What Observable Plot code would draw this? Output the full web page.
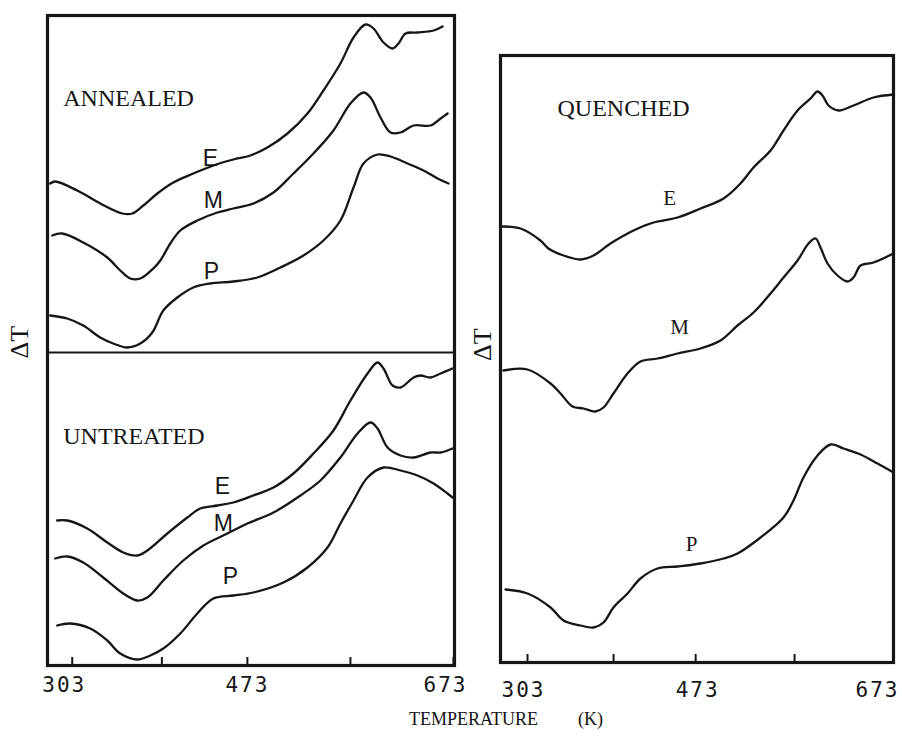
<!DOCTYPE html>
<html><head><meta charset="utf-8">
<script src="https://cdn.jsdelivr.net/npm/d3@7"></script>
<script src="https://cdn.jsdelivr.net/npm/@observablehq/plot@0.6"></script>
<style>
body{margin:0;background:#fff;}
#fig{position:relative;width:902px;height:738px;background:#fff;overflow:hidden;}
#fig svg{position:absolute;top:0;overflow:visible;background:transparent;}
#xlabel{position:absolute;top:709px;left:409px;font-family:"Liberation Serif",serif;font-size:18px;color:#111;white-space:nowrap;}
#xlabel span.k{margin-left:40px;}
[aria-label="x-axis tick label"] text{letter-spacing:2px;}
</style></head><body><div id="fig"><div id="xlabel">TEMPERATURE<span class="k">(K)</span></div></div>
<script>
// Temperature (K) tick values
const tickLabels = [303, 473, 673];
const tickMarks = [303, 390, 473, 573, 673];

// ΔT curves, arbitrary units: [T (K), ΔT]
// Left panel – ANNEALED
const annealedE = [[281.6,482],[286.5,484],[307.9,475],[330.2,462],[351.6,452],[361.3,452],[372,460],[385.6,472],[401.1,483],[420.5,492],[440,500],[459.4,506],[475.9,510],[492.4,518],[511.9,532],[531.3,552],[546.8,575],[563.3,602],[576,628],[587.6,641],[595.4,637],[605.1,623],[613.9,617],[619.7,622],[626.5,632],[638.1,633],[653.7,635],[662.4,639]];
const annealedM = [[283.6,430],[293.3,432],[313.7,423],[337,408],[349.6,395],[359.3,387],[369.1,387],[381.7,397],[388.5,405],[398.2,422],[407.9,435],[424.4,445],[443.9,453],[459.4,457],[478.8,462],[498.3,473],[517.7,492],[537.1,512],[556.5,535],[573,562],[585.7,573],[592.5,568],[602.2,548],[611.9,533],[621.6,533],[634.3,540],[650.8,540],[660.5,547],[667.3,552]];
const annealedP = [[281.6,350],[298.1,347],[313.7,340],[330.2,328],[342.8,322],[356.4,318],[369.1,322],[380.7,333],[391.4,355],[405,368],[420.5,378],[437.1,382],[459.4,384],[482.7,388],[505.1,398],[527.4,410],[546.8,425],[563.3,445],[576,478],[585.7,502],[599.3,511],[611.9,509],[628.4,502],[644,495],[657.6,487],[668.2,482]];
// Left panel – UNTREATED
const untreatedE = [[288.4,145],[298.1,145],[317.6,137],[337,123],[352.5,113],[366.1,110],[375.9,115],[395.3,132],[414.7,148],[427.3,157],[443.9,160],[459.4,163],[478.8,170],[498.3,178],[517.7,192],[537.1,212],[556.5,235],[573,265],[589.6,292],[599.3,303],[605.1,297],[613.9,280],[621.6,278],[634.3,288],[641,290],[650.8,288],[660.5,292],[672.1,297]];
const untreatedM = [[286.5,107],[298.1,109],[313.7,103],[333.1,88],[352.5,72],[366.1,65],[375.9,68],[391.4,85],[410.8,105],[430.3,120],[453.6,132],[473,142],[498.3,153],[524.5,170],[543.9,185],[563.3,208],[579.9,232],[592.5,243],[599.3,237],[609,218],[621.6,210],[634.3,208],[650.8,213],[660.5,213],[672.1,217]];
const untreatedP = [[288.4,40],[301,42],[320.5,37],[337,25],[349.6,12],[366.1,6],[378.8,10],[391.4,17],[407.9,32],[424.4,52],[440,67],[459.4,70],[478.8,73],[508,83],[531.3,98],[550.7,118],[563.3,142],[576,165],[589.6,188],[605.1,198],[621.6,195],[638.1,190],[653.7,182],[672.1,168]];
// Right panel – QUENCHED
const quenchedE = [[277.7,436],[295.9,434],[316.1,422],[324.2,414],[339.4,407],[356.6,403],[369.7,407],[386.9,419],[410.2,432],[430.4,440],[454.7,445],[477.9,454],[501.2,464],[518.3,479],[531.5,495],[548.7,512],[561.8,532],[576,552],[589.1,564],[596.2,571],[601.2,567],[607.3,557],[617.4,552],[632.6,557],[652.8,565],[673,568]];
const quenchedM = [[278.7,292],[303,293],[326.3,279],[336.4,269],[348.5,256],[359.6,254],[371.7,251],[379.8,255],[389.9,269],[404.1,289],[417.2,301],[434.4,304],[454.7,309],[477.9,314],[498.1,322],[515.3,337],[531.5,350],[548.7,369],[561.8,385],[576,402],[587.1,419],[594.2,424],[599.2,415],[606.3,399],[616.4,387],[626.5,381],[632.6,385],[639.7,397],[652.8,400],[673,409]];
const quenchedP = [[280.8,73],[303,69],[326.3,55],[339.4,42],[356.6,37],[369.7,35],[379.8,40],[389.9,55],[404.1,69],[417.2,84],[434.4,94],[454.7,96],[477.9,99],[501.2,104],[515.3,109],[538.6,125],[561.8,145],[571.9,162],[582,185],[596.2,207],[609.4,218],[622.5,214],[639.7,208],[656.9,199],[673,190]];

// level separating the ANNEALED and UNTREATED traces
const dividerLevel = [313];

// annotation anchors [text, T, ΔT]
const leftTitles = [["ANNEALED",294.3,560],["UNTREATED",294.3,222]];
const leftCurveLabels = [["E",437,500],["M",440,458],["P",438,387],["E",448.7,172],["M",449.7,135],["P",456.5,82]];
const rightTitles = [["QUENCHED",333.3,547]];
const rightCurveLabels = [["E",446.6,458],["M",456.7,329],["P",468.8,112]];

function rows(group, name, pts) { return pts.map(([T, v]) => ({key: group + name, T, v})); }
function anchors(arr) { return arr.map(([text, T, v]) => ({text, T, v})); }

const ink = "#161616";
const serif = "Liberation Serif, Times New Roman, serif";

const leftData = [
  ...rows("A","E",annealedE), ...rows("A","M",annealedM), ...rows("A","P",annealedP),
  ...rows("U","E",untreatedE), ...rows("U","M",untreatedM), ...rows("U","P",untreatedP)
];
const rightData = [...rows("Q","E",quenchedE), ...rows("Q","M",quenchedM), ...rows("Q","P",quenchedP)];

function panel({data, xDomain, yDomain, width, height, mt, mr, mb, ml, titles, curveLabels, curveFont, curveSize, labelDx, divider, dtDx, dtDy}) {
  const marks = [
    Plot.frame({stroke: ink, strokeWidth: 3.2}),
    Plot.ruleX(tickMarks, {x: d => d, y1: 0, y2: 8, stroke: ink, strokeWidth: 2}),
    Plot.line(data, {x: "T", y: "v", z: "key", curve: "catmull-rom", stroke: ink, strokeWidth: 2.3}),
    Plot.text(anchors(titles), {x: "T", y: "v", text: "text", textAnchor: "start", lineAnchor: "bottom", fontSize: 24, fontFamily: serif, fill: ink}),
    Plot.text(anchors(curveLabels), {x: "T", y: "v", text: "text", lineAnchor: "bottom", fontSize: curveSize, fontFamily: curveFont, fill: ink}),
    Plot.text(["ΔT"], {text: d => d, frameAnchor: "left", rotate: -90, dx: dtDx, dy: dtDy, fontSize: 26, fontFamily: serif, fill: ink}),
    Plot.axisX([tickLabels[0]], {tickSize: 0, tickPadding: labelDx.pad, dx: labelDx.a, label: null, fontSize: 21, fontFamily: "DejaVu Sans Mono, monospace", fill: ink}),
    Plot.axisX([tickLabels[1]], {tickSize: 0, tickPadding: labelDx.pad, dx: labelDx.b, label: null, fontSize: 21, fontFamily: "DejaVu Sans Mono, monospace", fill: ink}),
    Plot.axisX([tickLabels[2]], {tickSize: 0, tickPadding: labelDx.pad, dx: labelDx.c, label: null, fontSize: 21, fontFamily: "DejaVu Sans Mono, monospace", fill: ink})
  ];
  if (divider) marks.push(Plot.ruleY(divider, {y: d => d, stroke: ink, strokeWidth: 2}));
  return Plot.plot({
    width, height, marginTop: mt, marginRight: mr, marginBottom: mb, marginLeft: ml,
    style: {background: "transparent", color: ink, overflow: "visible"},
    x: {domain: xDomain},
    y: {domain: yDomain, axis: null},
    marks
  });
}

const fig = document.getElementById("fig");

const left = panel({
  data: leftData, xDomain: [279, 674], yDomain: [0, 650],
  width: 470, height: 705, mt: 15, mr: 16, mb: 40, ml: 47,
  titles: leftTitles, curveLabels: leftCurveLabels,
  curveFont: "Liberation Sans, Arial, sans-serif", curveSize: 23,
  labelDx: {pad: 12, a: -8, b: 0, c: -8}, divider: dividerLevel, dtDx: -28, dtDy: 18
});
left.style.left = "0px";
fig.appendChild(left);

const right = panel({
  data: rightData, xDomain: [275.7, 673], yDomain: [0, 607],
  width: 442, height: 705, mt: 55, mr: 9, mb: 43, ml: 40,
  titles: rightTitles, curveLabels: rightCurveLabels,
  curveFont: serif, curveSize: 21,
  labelDx: {pad: 20, a: -4, b: 2, c: -16}, divider: null, dtDx: -18, dtDy: 2
});
right.style.left = "460px";
fig.appendChild(right);
</script>
</body></html>
